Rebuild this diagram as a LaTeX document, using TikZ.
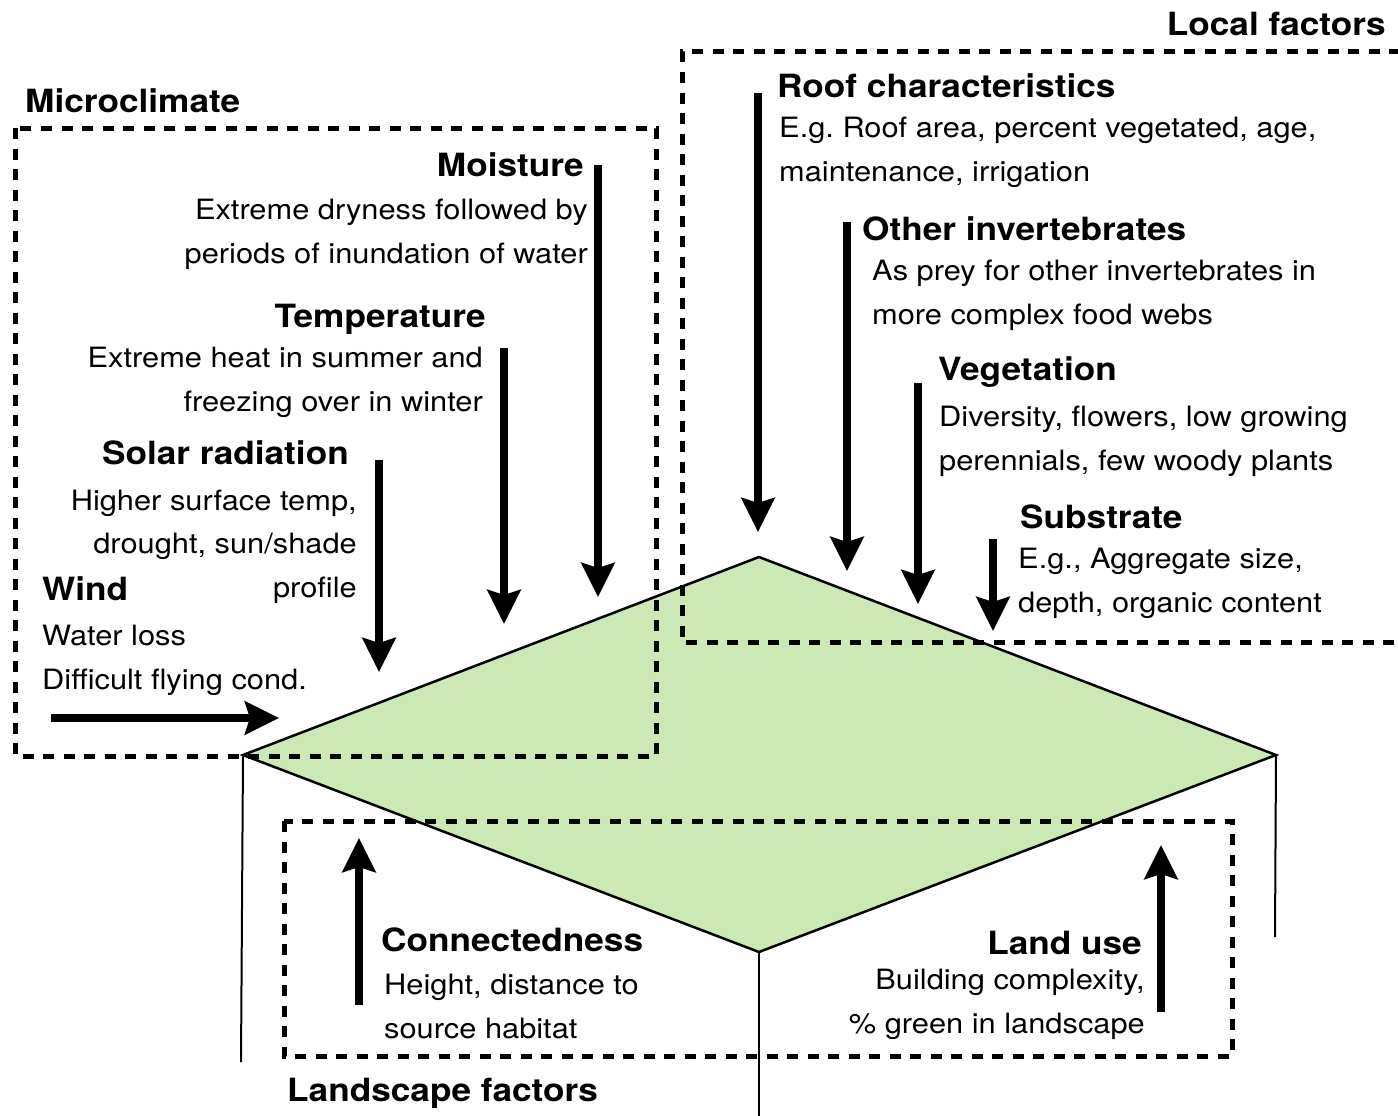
\documentclass[tikz,border=0pt]{standalone}
\usepackage{fontspec}
\setmainfont{TeX Gyre Heros}[FakeStretch=1.1]
\usetikzlibrary{arrows.meta}
\definecolor{roofgreen}{RGB}{204,232,181}
\begin{document}
\frenchspacing
\begin{tikzpicture}[x=1pt,y=-1pt,
  head/.style={font=\fontsize{32}{38}\selectfont\bfseries, inner sep=0pt},
  body/.style={font=\fontsize{28}{43.5}\selectfont, inner sep=0pt},
  factor/.style={line width=7.5pt, -{Stealth[length=34pt,width=33pt,inset=5pt]}},
  dashbox/.style={line width=5pt, dash pattern=on 11pt off 9.5pt},
  edge/.style={line width=2pt}]
\useasboundingbox (0,0) rectangle (1398,1116);
% roof diamond
\coordinate (top) at (759,557);
\coordinate (lft) at (243,755);
\coordinate (rgt) at (1276,755);
\coordinate (bot) at (759,952);
\coordinate (lftb) at (241,1062);
\coordinate (botb) at (759,1116);
\coordinate (rgtb) at (1275,937);
\filldraw[fill=roofgreen, line width=2.5pt, line join=miter] (top)--(rgt)--(bot)--(lft)--cycle;
\draw[edge] (lft) -- (lftb);
\draw[edge] (bot) -- (botb);
\draw[edge] (rgt) -- (rgtb);
% dashed boxes
\draw[dashbox] (15,128) rectangle (656,756);
\draw[dashbox] (1400,52) -- (682,52) -- (682,642) -- (1400,642);
\draw[dashbox] (284,821) rectangle (1232,1056);
% titles
\node[head, anchor=base west] (micro) at (25,113) {Microclimate};
\node[head, anchor=base east] (local) at (1386,36) {Local factors};
\node[head, anchor=base west] (land) at (287,1101) {Landscape factors};
% microclimate factors
\node[head, anchor=base east] (moist) at (584,176) {Moisture};
\node[body, anchor=base east, align=right] (moistt) at (588,263) {Extreme dryness followed by\\periods of inundation of water};
\node[head, anchor=base east] (temp) at (486,327) {Temperature};
\node[body, anchor=base east, align=right] (tempt) at (483,411) {Extreme heat in summer and\\freezing over in winter};
\node[head, anchor=base east] (solar) at (349,464) {Solar radiation};
\node[body, anchor=base east, align=right] (solart) at (357,597) {Higher surface temp,\\drought, sun/shade\\profile};
\node[head, anchor=base west] (wind) at (42,600) {Wind};
\node[body, anchor=base west, align=left] (windt) at (42,689) {Water loss\\Difficult flying cond.};
% local factors
\node[head, anchor=base west] (roof) at (777,97) {Roof characteristics};
\node[body, anchor=base west, align=left] (rooft) at (779,181) {E.g. Roof area, percent vegetated, age,\\maintenance, irrigation};
\node[head, anchor=base west] (inv) at (862,240) {Other invertebrates};
\node[body, anchor=base west, align=left] (invt) at (872,324) {As prey for other invertebrates in\\more complex food webs};
\node[head, anchor=base west] (veg) at (938,380) {Vegetation};
\node[body, anchor=base west, align=left] (vegt) at (939,470) {Diversity, flowers, low growing\\perennials, few woody plants};
\node[head, anchor=base west] (sub) at (1020,528) {Substrate};
\node[body, anchor=base west, align=left] (subt) at (1018,612) {E.g., Aggregate size,\\depth, organic content};
% landscape factors
\node[head, anchor=base west] (conn) at (381,951) {Connectedness};
\node[body, anchor=base west, align=left] (connt) at (384,1038) {Height, distance to\\source habitat};
\node[head, anchor=base east] (use) at (1142,954) {Land use};
\node[body, anchor=base east, align=right] (uset) at (1145,1033) {Building complexity,\\\% green in landscape};
% arrows
\coordinate (moistA) at (598,165);  \coordinate (moistB) at (598,597);
\coordinate (tempA) at (504,348);   \coordinate (tempB) at (504,624);
\coordinate (solarA) at (379,460);  \coordinate (solarB) at (379,672);
\coordinate (windA) at (51,718);    \coordinate (windB) at (279,718);
\coordinate (roofA) at (758,93);    \coordinate (roofB) at (758,532);
\coordinate (invA) at (847,222);    \coordinate (invB) at (847,571);
\coordinate (vegA) at (918,383);    \coordinate (vegB) at (918,604);
\coordinate (subA) at (993,539);    \coordinate (subB) at (993,631);
\coordinate (connA) at (359,1005);  \coordinate (connB) at (359,838);
\coordinate (useA) at (1161,1012);  \coordinate (useB) at (1161,845);
\foreach \f in {moist,temp,solar,wind,roof,inv,veg,sub,conn,use}
  \draw[factor] (\f A) -- (\f B);
\end{tikzpicture}
\end{document}
